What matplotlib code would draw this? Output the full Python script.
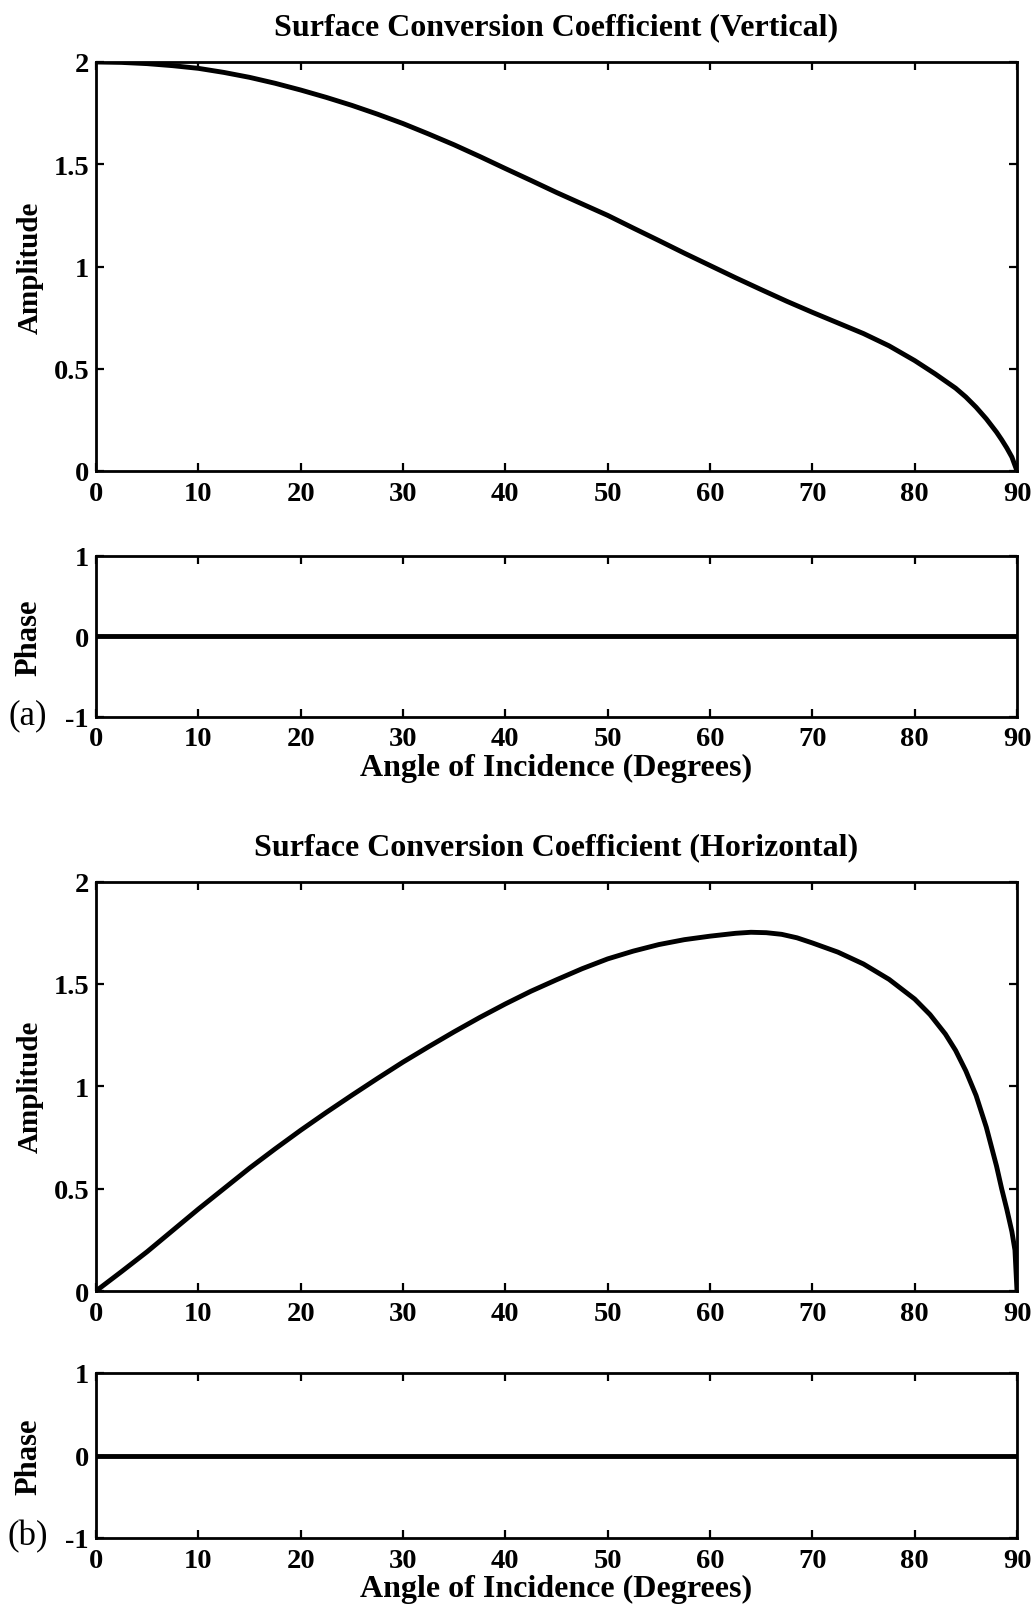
import numpy as np
import matplotlib
matplotlib.use("Agg")
import matplotlib.pyplot as plt
from matplotlib.ticker import FormatStrFormatter

plt.rcParams['font.family'] = ['Liberation Serif', 'DejaVu Serif']
plt.rcParams['axes.unicode_minus'] = False

# angle of incidence (deg) and amplitude, vertical component
angle_v = [0, 2.5, 5, 7.5, 10, 12.5, 15, 17.5, 20, 22.5, 25, 27.5, 30, 32.5,
           35, 37.5, 40, 42.5, 45, 47.5, 50, 52.5, 55, 57.5, 60, 62.5, 65,
           67.5, 70, 72.5, 75, 77.5, 80, 82, 84, 85, 86, 87, 88, 88.5, 89,
           89.5, 90]
amp_v = [2.000, 1.998, 1.992, 1.982, 1.969, 1.949, 1.925, 1.896, 1.863, 1.827,
         1.788, 1.745, 1.699, 1.648, 1.595, 1.538, 1.479, 1.421, 1.362, 1.306,
         1.250, 1.188, 1.127, 1.065, 1.005, 0.945, 0.887, 0.830, 0.776, 0.724,
         0.672, 0.612, 0.540, 0.475, 0.405, 0.362, 0.312, 0.255, 0.190, 0.153,
         0.113, 0.068, 0.0]

# horizontal component
angle_h = [0, 2.5, 5, 7.5, 10, 12.5, 15, 17.5, 20, 22.5, 25, 27.5, 30, 32.5,
           35, 37.5, 40, 42.5, 45, 47.5, 50, 52.5, 55, 57.5, 60, 62.5, 64,
           65.5, 67, 68.5, 70, 72.5, 75, 77.5, 80, 81.5, 83, 84, 85, 86, 87,
           88, 88.5, 89, 89.5, 89.8, 90]
amp_h = [0.0, 0.095, 0.192, 0.296, 0.400, 0.500, 0.600, 0.694, 0.785, 0.872,
         0.956, 1.038, 1.118, 1.193, 1.266, 1.336, 1.402, 1.464, 1.520, 1.574,
         1.622, 1.660, 1.692, 1.716, 1.733, 1.747, 1.752, 1.750, 1.742, 1.725,
         1.700, 1.655, 1.597, 1.522, 1.426, 1.350, 1.255, 1.175, 1.075, 0.955,
         0.800, 0.610, 0.500, 0.400, 0.290, 0.200, 0.0]

# phase is zero across the whole range
angle_p = [0, 90]
phase_v = [0, 0]
phase_h = [0, 0]

xticks = [0, 10, 20, 30, 40, 50, 60, 70, 80, 90]
amp_ticks = [0, 0.5, 1, 1.5, 2]
phase_ticks = [-1, 0, 1]

W, H = 1035, 1615
fig = plt.figure(figsize=(W / 100, H / 100), dpi=100)


def box(left, top, right, bottom):
    return [left / W, 1 - bottom / H, (right - left) / W, (bottom - top) / H]


def style(ax, yticks, ylim):
    ax.set_xlim(0, 90)
    ax.set_ylim(*ylim)
    ax.set_xticks(xticks)
    ax.set_yticks(yticks)
    ax.yaxis.set_major_formatter(FormatStrFormatter('%g'))
    ax.tick_params(direction='in', top=True, right=True, length=6, width=1.6,
                   labelsize=20.5)
    ax.tick_params(axis='x', pad=7)
    ax.tick_params(axis='y', pad=5)
    for lab in ax.get_xticklabels() + ax.get_yticklabels():
        lab.set_fontweight('bold')
    for sp in ax.spines.values():
        sp.set_linewidth(2.0)


panels = [
    ("Surface Conversion Coefficient (Vertical)", "(a)", angle_v, amp_v, phase_v,
     (63, 472), (557, 717.5)),
    ("Surface Conversion Coefficient (Horizontal)", "(b)", angle_h, amp_h, phase_h,
     (882.5, 1292), (1374, 1539)),
]

for title, tag, ang, amp, ph, (a_top, a_bot), (p_top, p_bot) in panels:
    ax_a = fig.add_axes(box(96, a_top, 1017, a_bot))
    ax_a.plot(ang, amp, color='black', lw=3.5, solid_joinstyle='round')
    style(ax_a, amp_ticks, (0, 2))
    ax_a.set_ylabel("Amplitude", fontsize=21, fontweight='bold', labelpad=7)
    ax_a.set_title(title, fontsize=23, fontweight='bold', pad=20)

    ax_p = fig.add_axes(box(96, p_top, 1017, p_bot))
    ax_p.plot(angle_p, ph, color='black', lw=3.5)
    style(ax_p, phase_ticks, (-1, 1))
    ax_p.set_ylabel("Phase", fontsize=22, fontweight='bold', labelpad=16)
    ax_p.set_xlabel("Angle of Incidence (Degrees)", fontsize=23,
                    fontweight='bold', labelpad=1)
    fig.text(28 / W, 1 - (p_bot - 2) / H, tag, fontsize=25,
             ha='center', va='center')

fig.savefig('out.png', dpi=100)
